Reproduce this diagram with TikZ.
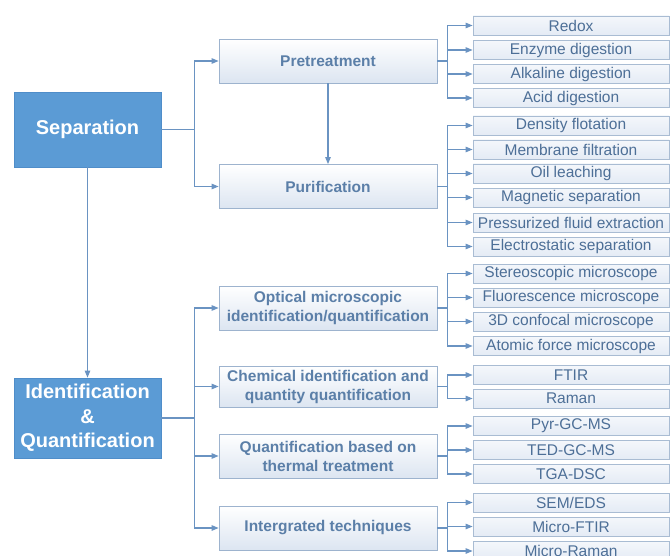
\documentclass[tikz,border=0pt]{standalone}
\usepackage{fontspec}
\setmainfont{Liberation Sans}
\usetikzlibrary{arrows.meta}
\definecolor{mainblue}{HTML}{5B9BD5}
\definecolor{mainedge}{HTML}{4F8DC9}
\definecolor{linec}{HTML}{6A93C2}
\definecolor{midtext}{HTML}{5B7FA8}
\definecolor{midedge}{HTML}{9DB3CE}
\definecolor{midfill}{HTML}{DCE5F1}
\definecolor{leaftext}{HTML}{4D6F97}
\definecolor{leafedge}{HTML}{A9BCD3}
\definecolor{leaffill}{HTML}{E4EBF5}
\begin{document}
\begin{tikzpicture}[x=1pt,y=-1pt,
 mainbox/.style={draw=mainedge, fill=mainblue, text=white, font=\fontsize{20}{24.5}\selectfont\bfseries, align=center, minimum width=147pt, inner sep=0pt, line width=0.8pt},
 midbox/.style={draw=midedge, top color=white, bottom color=midfill, text=midtext, font=\fontsize{15.5}{19}\selectfont\bfseries, align=center, minimum width=218pt, minimum height=44pt, inner sep=0pt, line width=0.8pt},
 leaf/.style={draw=leafedge, top color=leaffill!40!white, bottom color=leaffill, text=leaftext, font=\fontsize{15.5}{18}\selectfont, minimum width=196pt, minimum height=19pt, inner sep=0pt, line width=0.8pt},
 conn/.style={draw=linec, line width=1.1pt},
 arr/.style={conn, -{Triangle[length=7pt,width=5.5pt]}}
]
\useasboundingbox (0,0) rectangle (671,556);
\fill[white] (0,0) rectangle (671,556);

% main boxes
\node[mainbox, minimum height=75pt] (sep) at (87.5,129.5) {Separation};
\node[mainbox, minimum height=80pt] (ident) at (87.5,418) {Identification\\\&\\Quantification};

% middle boxes
\node[midbox] (pre) at (328,61) {Pretreatment};
\node[midbox] (pur) at (328,186.5) {Purification};
\node[midbox] (opt) at (328,308) {Optical microscopic\\identification/quantification};
\node[midbox, minimum height=41pt] (chem) at (328,386.5) {Chemical identification and\\quantity quantification};
\node[midbox] (therm) at (328,456) {Quantification based on\\thermal treatment};
\node[midbox] (integ) at (328,528) {Intergrated techniques};

% leaves
\node[leaf] (redox) at (571,25.5) {Redox};
\node[leaf] (enzyme) at (571,50) {Enzyme digestion};
\node[leaf] (alkaline) at (571,74) {Alkaline digestion};
\node[leaf] (acid) at (571,98) {Acid digestion};
\node[leaf] (density) at (571,125.5) {Density flotation};
\node[leaf] (membrane) at (571,149.5) {Membrane filtration};
\node[leaf] (oil) at (571,173.5) {Oil leaching};
\node[leaf] (magnetic) at (571,197.5) {Magnetic separation};
\node[leaf] (pressur) at (571,222.5) {Pressurized fluid extraction};
\node[leaf] (electro) at (571,246.5) {Electrostatic separation};
\node[leaf] (stereo) at (571,273.5) {Stereoscopic microscope};
\node[leaf] (fluor) at (571,297.5) {Fluorescence microscope};
\node[leaf] (confocal) at (571,321.5) {3D confocal microscope};
\node[leaf] (atomic) at (571,346) {Atomic force microscope};
\node[leaf] (ftir) at (571,375) {FTIR};
\node[leaf] (raman) at (571,398.5) {Raman};
\node[leaf] (pyr) at (571,426) {Pyr-GC-MS};
\node[leaf] (ted) at (571,450) {TED-GC-MS};
\node[leaf] (tga) at (571,474) {TGA-DSC};
\node[leaf] (sem) at (571,502.5) {SEM/EDS};
\node[leaf] (mftir) at (571,526.5) {Micro-FTIR};
\node[leaf] (mraman) at (571,551) {Micro-Raman};

% connectors
\draw[arr] (sep) -- (ident);
\draw[arr] (pre) -- (pur);
\foreach \c in {pre,pur} \draw[arr] (sep.east) -- ++(33,0) |- (\c.west);
\foreach \c in {opt,chem,therm,integ} \draw[arr] (ident.east) -- ++(33,0) |- (\c.west);
\foreach \c in {redox,enzyme,alkaline,acid} \draw[arr] (pre.east) -- ++(10,0) |- (\c.west);
\foreach \c in {density,membrane,oil,magnetic,pressur,electro} \draw[arr] (pur.east) -- ++(10,0) |- (\c.west);
\foreach \c in {stereo,fluor,confocal,atomic} \draw[arr] (opt.east) -- ++(10,0) |- (\c.west);
\foreach \c in {ftir,raman} \draw[arr] (chem.east) -- ++(10,0) |- (\c.west);
\foreach \c in {pyr,ted,tga} \draw[arr] (therm.east) -- ++(10,0) |- (\c.west);
\foreach \c in {sem,mftir,mraman} \draw[arr] (integ.east) -- ++(10,0) |- (\c.west);
\end{tikzpicture}
\end{document}
